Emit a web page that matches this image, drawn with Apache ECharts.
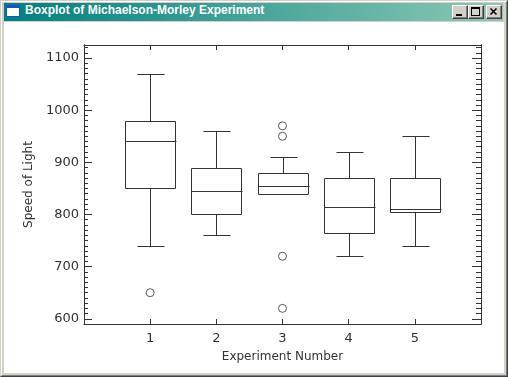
<!DOCTYPE html>
<html>
<head>
<meta charset="utf-8">
<title>Boxplot of Michaelson-Morley Experiment</title>
<script src="https://cdn.jsdelivr.net/npm/echarts@6/dist/echarts.min.js"></script>
<style>
  html, body { margin: 0; padding: 0; background: #d4d0c8; }
  #win {
    position: absolute; left: 0; top: 0; width: 508px; height: 377px;
    box-sizing: border-box; background: #d4d0c8;
    border: 1px solid; border-color: #d4d0c8 #404040 #404040 #d4d0c8;
  }
  #win .inner {
    position: absolute; left: 0; top: 0; right: 0; bottom: 0;
    border: 1px solid; border-color: #ffffff #808080 #808080 #ffffff;
  }
  #caption {
    position: absolute; left: 4px; top: 3px; width: 499px; height: 18px;
    background: linear-gradient(to right, #008080, #8cc8b4);
  }
  #caption .text {
    position: absolute; left: 21px; top: 0; line-height: 18px;
    font: bold 12px "Liberation Sans", Arial, sans-serif; color: #fff;
    white-space: nowrap;
  }
  #caption .icon { position: absolute; left: 2px; top: 2px; }
  .btn {
    position: absolute; top: 2px; width: 16px; height: 14px; box-sizing: border-box;
    background: #d4d0c8;
    border: 1px solid; border-color: #ffffff #404040 #404040 #ffffff;
    box-shadow: inset -1px -1px #808080;
  }
  .btn svg { position: absolute; left: 0; top: 0; }
  #chart { position: absolute; left: 4px; top: 22px; width: 500px; height: 351px; background: #fff; }
</style>
</head>
<body>
<div id="win"><div class="inner"></div></div>
<div id="caption">
  <svg class="icon" width="14" height="13">
    <rect x="0.5" y="0.5" width="13" height="11" fill="#fff" stroke="#2050c8"/>
    <rect x="1" y="1" width="12" height="2" fill="#2050c8"/>
  </svg>
  <span class="text">Boxplot of Michaelson-Morley Experiment</span>
  <div class="btn" style="left:448px">
    <svg width="14" height="12"><rect x="3" y="8" width="6" height="2" fill="#000"/></svg>
  </div>
  <div class="btn" style="left:464px">
    <svg width="14" height="12"><rect x="2.5" y="1.5" width="8" height="8" fill="none" stroke="#000"/><rect x="2" y="1" width="9" height="2" fill="#000"/></svg>
  </div>
  <div class="btn" style="left:482px">
    <svg width="14" height="12"><path d="M3.5 2.5 L9.5 8.5 M9.5 2.5 L3.5 8.5" stroke="#000" stroke-width="1.6"/></svg>
  </div>
</div>
<div id="chart"></div>
<script>
// Michelson-Morley speed of light measurements (km/s minus 299000), per experiment
const experiments = [1, 2, 3, 4, 5]
const whiskerLow = [740, 760, 840, 720, 740]
const lowerQuartile = [850, 800, 840, 765, 805]
const medians = [940, 845, 855, 815, 810]
const upperQuartile = [980, 890, 880, 870, 870]
const whiskerHigh = [1070, 960, 910, 920, 950]

const outlierExperiment = [1, 3, 3, 3, 3]
const outlierValue = [650, 620, 720, 950, 970]

const xTickLabels = ['1', '2', '3', '4', '5']

const lineColor = '#333'
const font = 'DejaVu Sans'

const chart = echarts.init(document.getElementById('chart'))

const boxData = experiments.map((e, i) => [e, whiskerLow[i], lowerQuartile[i], medians[i], upperQuartile[i], whiskerHigh[i]])
const outlierData = outlierExperiment.map((e, i) => [e, outlierValue[i]])

const crisp = v => Math.round(v) + 0.5

function renderBox(params, api) {
  const x = api.value(0)
  const lo = api.coord([x, api.value(1)])
  const q1 = api.coord([x, api.value(2)])
  const md = api.coord([x, api.value(3)])
  const q3 = api.coord([x, api.value(4)])
  const hi = api.coord([x, api.value(5)])
  const boxW = api.size([0.76, 0])[0]
  const capW = api.size([0.4, 0])[0]
  const cx = crisp(lo[0])
  const style = { stroke: lineColor, fill: 'none', lineWidth: 1 }
  const hline = (y, w) => ({ type: 'line', shape: { x1: crisp(cx - w / 2), y1: crisp(y), x2: crisp(cx + w / 2), y2: crisp(y) }, style })
  const vline = (y1, y2) => ({ type: 'line', shape: { x1: cx, y1: crisp(y1), x2: cx, y2: crisp(y2) }, style })
  return {
    type: 'group',
    children: [
      { type: 'rect', shape: { x: crisp(cx - boxW / 2), y: crisp(q3[1]), width: Math.round(boxW), height: Math.round(q1[1]) - Math.round(q3[1]) }, style },
      hline(md[1], boxW),
      vline(q3[1], hi[1]),
      vline(q1[1], lo[1]),
      hline(hi[1], capW),
      hline(lo[1], capW)
    ]
  }
}

// y range: 590 is a multiple of the minor step, so minor ticks start on the tens
const yRange = { min: 590, max: 1125 }

function yAxis(position, major, tickLen, showLabel) {
  const axis = {
    type: 'value',
    position: position,
    min: yRange.min,
    max: yRange.max,
    axisLine: { show: true, lineStyle: { color: lineColor, width: 1 } },
    axisTick: { show: true, inside: true, length: tickLen, lineStyle: { color: lineColor } },
    axisLabel: {
      show: showLabel, showMinLabel: false, showMaxLabel: false,
      margin: 5, color: lineColor, fontFamily: font, fontSize: 13,
      formatter: v => String(v)
    },
    splitLine: { show: false },
    name: showLabel ? 'Speed of Light' : '',
    nameLocation: 'middle',
    nameGap: 40,
    nameTextStyle: { color: lineColor, fontFamily: font, fontSize: 12 }
  }
  if (major) {
    axis.splitNumber = 5
  } else {
    axis.interval = 10
  }
  return axis
}

function xAxis(position, showLabel) {
  return {
    type: 'value',
    position: position,
    min: 0,
    max: 6,
    interval: 1,
    axisLine: { show: true, lineStyle: { color: lineColor, width: 1 } },
    axisTick: { show: true, inside: true, length: 5, lineStyle: { color: lineColor } },
    axisLabel: {
      show: showLabel,
      margin: 8,
      color: lineColor, fontFamily: font, fontSize: 13,
      formatter: v => (v >= 1 && v <= xTickLabels.length ? xTickLabels[v - 1] : '')
    },
    splitLine: { show: false },
    name: showLabel ? 'Experiment Number' : '',
    nameLocation: 'middle',
    nameGap: 27,
    nameTextStyle: { color: lineColor, fontFamily: font, fontSize: 12 }
  }
}

const option = {
  animation: false,
  backgroundColor: '#fff',
  grid: { left: 80, top: 23, right: 23, bottom: 49 },
  xAxis: [xAxis('bottom', true), xAxis('top', false)],
  yAxis: [
    yAxis('left', true, 8, true),
    yAxis('left', false, 4, false),
    yAxis('right', true, 9, false),
    yAxis('right', false, 5, false)
  ],
  series: [
    {
      type: 'custom',
      xAxisIndex: 0,
      yAxisIndex: 0,
      renderItem: renderBox,
      encode: { x: 0, y: [1, 2, 3, 4, 5] },
      data: boxData
    },
    {
      type: 'scatter',
      xAxisIndex: 0,
      yAxisIndex: 0,
      symbol: 'circle',
      symbolSize: 8,
      itemStyle: { color: 'rgba(0,0,0,0)', borderColor: lineColor, borderWidth: 1 },
      data: outlierData
    }
  ]
}

chart.setOption(option)
</script>
</body>
</html>
